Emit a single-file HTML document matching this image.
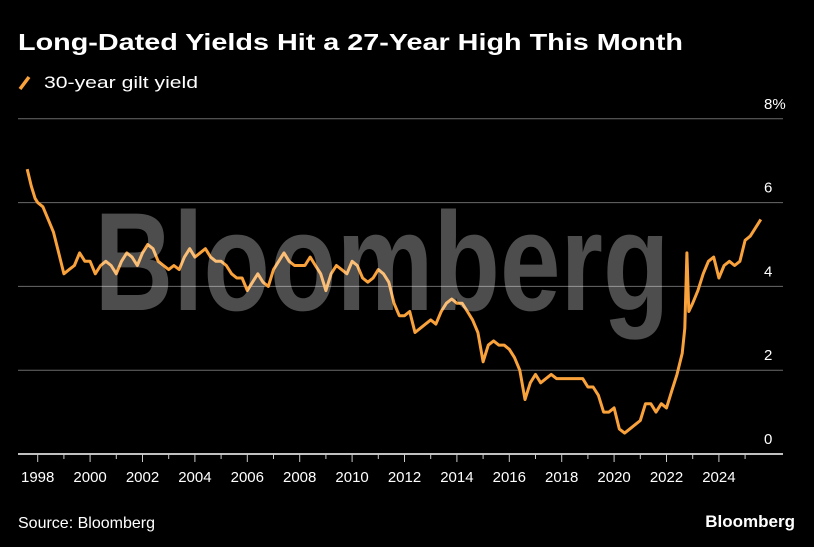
<!DOCTYPE html>
<html><head><meta charset="utf-8"><style>
html,body{margin:0;padding:0;background:#000;}
svg{display:block;font-family:"Liberation Sans",sans-serif;}
</style></head><body>
<svg width="814" height="547" viewBox="0 0 814 547">
<text x="18" y="50" fill="#fff" font-size="23" font-weight="bold" textLength="665" lengthAdjust="spacingAndGlyphs">Long-Dated Yields Hit a 27-Year High This Month</text>
<line x1="20" y1="89" x2="29" y2="77" stroke="#f9a23b" stroke-width="3.5"/>
<text x="44" y="88" fill="#fff" font-size="17" textLength="154" lengthAdjust="spacingAndGlyphs">30-year gilt yield</text>
<g id="grid"></g>
<g id="yticks"></g>
<polyline id="line" fill="none" stroke="#f9a23b" stroke-width="3" stroke-linejoin="round"/>
<text x="382" y="310" fill="rgba(255,255,255,0.3)" font-size="140" font-weight="bold" text-anchor="middle" textLength="575" lengthAdjust="spacingAndGlyphs" stroke="rgba(255,255,255,0.0)">Bloomberg</text>
<g id="xaxis"></g>
<text x="18" y="528" fill="#fff" font-size="16">Source: Bloomberg</text>
<text x="795" y="527" fill="#fff" font-size="17" font-weight="bold" text-anchor="end">Bloomberg</text>
</svg>
<script>
const years=[1997.6,1997.75,1997.9,1998.0,1998.2,1998.4,1998.6,1998.8,1999.0,1999.2,1999.4,1999.6,1999.8,2000.0,2000.2,2000.4,2000.6,2000.8,2001.0,2001.2,2001.4,2001.6,2001.8,2002.0,2002.2,2002.4,2002.6,2002.8,2003.0,2003.2,2003.4,2003.6,2003.8,2004.0,2004.2,2004.4,2004.6,2004.8,2005.0,2005.2,2005.4,2005.6,2005.8,2006.0,2006.2,2006.4,2006.6,2006.8,2007.0,2007.2,2007.4,2007.6,2007.8,2008.0,2008.2,2008.4,2008.6,2008.8,2009.0,2009.2,2009.4,2009.6,2009.8,2010.0,2010.2,2010.4,2010.6,2010.8,2011.0,2011.2,2011.4,2011.6,2011.8,2012.0,2012.2,2012.4,2012.6,2012.8,2013.0,2013.2,2013.4,2013.6,2013.8,2014.0,2014.2,2014.4,2014.6,2014.8,2015.0,2015.2,2015.4,2015.6,2015.8,2016.0,2016.2,2016.4,2016.6,2016.8,2017.0,2017.2,2017.4,2017.6,2017.8,2018.0,2018.2,2018.4,2018.6,2018.8,2019.0,2019.2,2019.4,2019.6,2019.8,2020.0,2020.2,2020.4,2020.6,2020.8,2021.0,2021.2,2021.4,2021.6,2021.8,2022.0,2022.2,2022.4,2022.6,2022.7,2022.78,2022.85,2023.0,2023.2,2023.4,2023.6,2023.8,2024.0,2024.2,2024.4,2024.6,2024.8,2025.0,2025.2,2025.4,2025.6];
const yields=[6.8,6.4,6.1,6.0,5.9,5.6,5.3,4.8,4.3,4.4,4.5,4.8,4.6,4.6,4.3,4.5,4.6,4.5,4.3,4.6,4.8,4.7,4.5,4.8,5.0,4.9,4.6,4.5,4.4,4.5,4.4,4.7,4.9,4.7,4.8,4.9,4.7,4.6,4.6,4.5,4.3,4.2,4.2,3.9,4.1,4.3,4.1,4.0,4.4,4.6,4.8,4.6,4.5,4.5,4.5,4.7,4.5,4.3,3.9,4.3,4.5,4.4,4.3,4.6,4.5,4.2,4.1,4.2,4.4,4.3,4.1,3.6,3.3,3.3,3.4,2.9,3.0,3.1,3.2,3.1,3.4,3.6,3.7,3.6,3.6,3.4,3.2,2.9,2.2,2.6,2.7,2.6,2.6,2.5,2.3,2.0,1.3,1.7,1.9,1.7,1.8,1.9,1.8,1.8,1.8,1.8,1.8,1.8,1.6,1.6,1.4,1.0,1.0,1.1,0.6,0.5,0.6,0.7,0.8,1.2,1.2,1.0,1.2,1.1,1.5,1.9,2.4,3.0,4.8,3.4,3.6,3.9,4.3,4.6,4.7,4.2,4.5,4.6,4.5,4.6,5.1,5.2,5.4,5.6];
const yTicks=[0,2,4,6,8];
const xTickYears=[1998,2000,2002,2004,2006,2008,2010,2012,2014,2016,2018,2020,2022,2024];
const NS='http://www.w3.org/2000/svg';
const X=y=>37.7+(y-1998)*26.2;
const Y=v=>454-v*41.9;
function mk(tag,attrs,parent){const e=document.createElementNS(NS,tag);for(const k in attrs)e.setAttribute(k,attrs[k]);parent.appendChild(e);return e;}
const grid=document.getElementById('grid'),yt=document.getElementById('yticks'),xa=document.getElementById('xaxis');
yTicks.forEach(v=>{
  if(v>0){const l=mk('line',{x1:18,x2:783,y1:Y(v),y2:Y(v),stroke:'#6a6a6a','stroke-width':1},grid);
  
  }
  const t=mk('text',{x:764,y:Y(v)-10,fill:'#fff','font-size':15},yt);
  t.textContent=v===8?'8%':String(v);
  
  
});
const ax=mk('line',{x1:18,x2:783,y1:454,y2:454,stroke:'#fff','stroke-width':1.5},xa);


for(let yr=1998;yr<=2025;yr++){
  const tk=mk('line',{x1:X(yr),x2:X(yr),y1:454,y2:yr%2===0?462:459,stroke:'#ccc','stroke-width':1},xa);
  
  
}
xTickYears.forEach(yr=>{
  const t=mk('text',{x:X(yr),y:482,fill:'#fff','font-size':15,'text-anchor':'middle'},xa);
  t.textContent=String(yr);
  
  
});
document.getElementById('line').setAttribute('points',years.map((y,i)=>X(y).toFixed(1)+','+Y(yields[i]).toFixed(1)).join(' '));
</script>
</body></html>
